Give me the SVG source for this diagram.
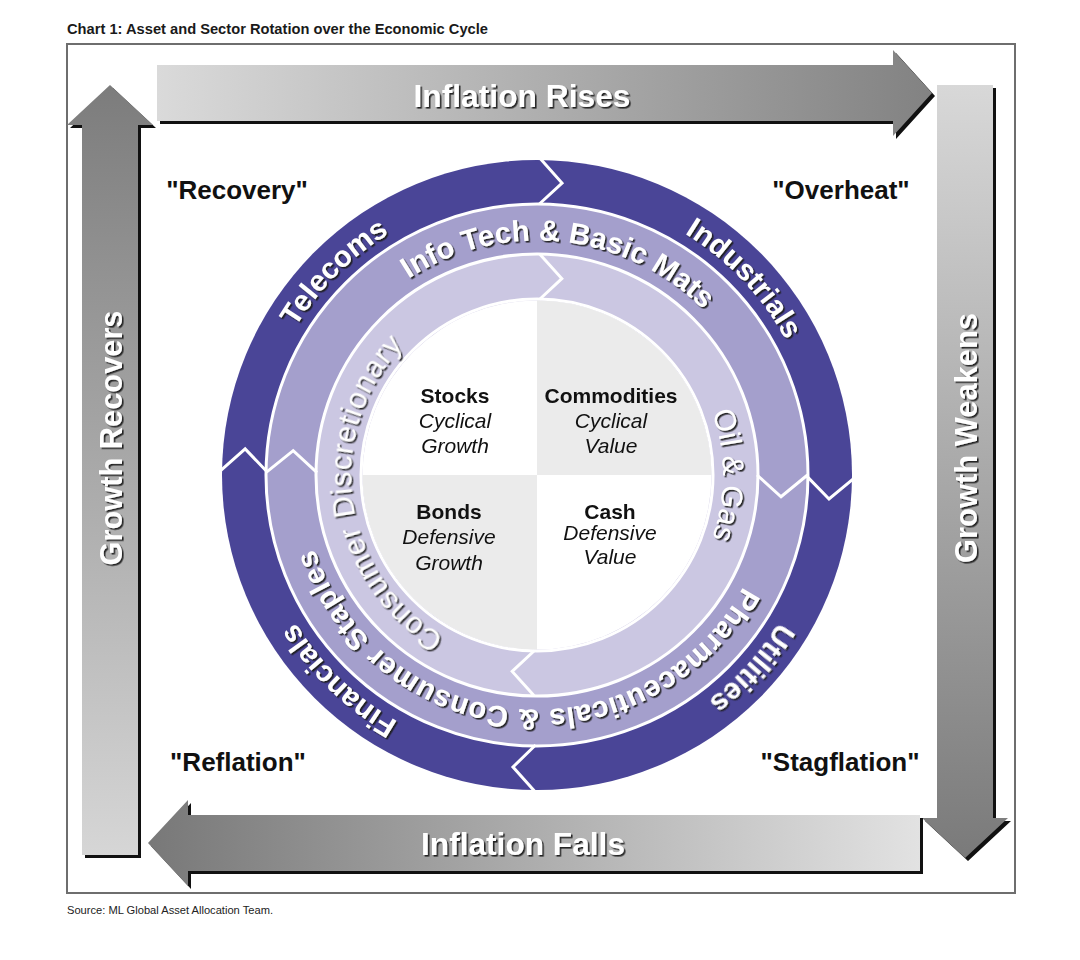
<svg xmlns="http://www.w3.org/2000/svg" xmlns:xlink="http://www.w3.org/1999/xlink" width="1080" height="960" viewBox="0 0 1080 960">
  <style>
    .sans { font-family: "Liberation Sans", Arial, Helvetica, sans-serif; }
    .title { font-size: 15.5px; font-weight: bold; fill: #1a1a1a; }
    .source { font-size: 11.5px; fill: #222; }
    .phase { font-size: 26px; font-weight: bold; fill: #111; text-anchor: middle; }
    .arrow-txt { font-size: 32px; font-weight: bold; fill: #fff; text-anchor: middle; }
    .ring-bold { font-size: 29.5px; font-weight: bold; fill: #fff; }
    .ring-reg { font-size: 30px; fill: #fff; }
    .asset { font-size: 21px; font-weight: bold; fill: #111; text-anchor: middle; }
    .style { font-size: 21px; font-style: italic; fill: #111; text-anchor: middle; }
    .chev { fill: none; stroke: #fff; stroke-width: 3; stroke-linejoin: miter; }
    .sep { fill: none; stroke: #fff; stroke-width: 3; }
    .shadow { fill: #111; }
  </style>
  <defs>
    <linearGradient id="gRight" x1="0" y1="0" x2="1" y2="0">
      <stop offset="0" stop-color="#dadada"/>
      <stop offset="1" stop-color="#828282"/>
    </linearGradient>
    <linearGradient id="gLeft" x1="0" y1="0" x2="1" y2="0">
      <stop offset="0" stop-color="#787878"/>
      <stop offset="1" stop-color="#e2e2e2"/>
    </linearGradient>
    <linearGradient id="gUp" x1="0" y1="0" x2="0" y2="1">
      <stop offset="0" stop-color="#7c7c7c"/>
      <stop offset="1" stop-color="#d6d6d6"/>
    </linearGradient>
    <linearGradient id="gDown" x1="0" y1="0" x2="0" y2="1">
      <stop offset="0" stop-color="#d8d8d8"/>
      <stop offset="1" stop-color="#7a7a7a"/>
    </linearGradient>
    <filter id="txtShadow" x="-10%" y="-10%" width="120%" height="120%">
      <feDropShadow dx="1.6" dy="1.6" stdDeviation="0.7" flood-color="#1e1e1e" flood-opacity="0.95"/>
    </filter>
    <!-- clockwise arcs centred on 12 o'clock, one per text baseline radius -->
    <path id="arcO" d="M258.30,524.14 A283,283 0 1 1 815.70,524.14"/>
    <path id="arcM" d="M306.06,515.72 A234.5,234.5 0 1 1 767.94,515.72"/>
    <path id="arcI" d="M353.82,507.30 A186,186 0 1 1 720.18,507.30"/>
  </defs>

  <rect width="1080" height="960" fill="#fff"/>

  <text class="sans title" x="67" y="34" textLength="421" lengthAdjust="spacingAndGlyphs">Chart 1: Asset and Sector Rotation over the Economic Cycle</text>
  <rect x="67" y="44" width="948" height="849" fill="none" stroke="#6e6e6e" stroke-width="2"/>
  <text class="sans source" x="67" y="914" textLength="206" lengthAdjust="spacingAndGlyphs">Source: ML Global Asset Allocation Team.</text>

  <!-- big directional arrows round the frame -->
  <g id="connectors">
    <g id="arrow-inflation-rises">
      <polygon class="shadow" transform="translate(3,3)" points="157,65 893,65 893,50 932,93 893,136 893,121 157,121"/>
      <polygon fill="url(#gRight)" points="157,65 893,65 893,50 932,93 893,136 893,121 157,121"/>
      <g filter="url(#txtShadow)">
        <text class="sans arrow-txt" x="522" y="107" textLength="217" lengthAdjust="spacingAndGlyphs">Inflation Rises</text>
      </g>
    </g>
    <g id="arrow-growth-weakens">
      <polygon class="shadow" transform="translate(3,3)" points="937,85 993,85 993,818 1008,818 965,858 922,818 937,818"/>
      <polygon fill="url(#gDown)" points="937,85 993,85 993,818 1008,818 965,858 922,818 937,818"/>
      <g filter="url(#txtShadow)">
        <text class="sans arrow-txt" transform="translate(977,438) rotate(-90)" x="0" y="0" textLength="250" lengthAdjust="spacingAndGlyphs">Growth Weakens</text>
      </g>
    </g>
    <g id="arrow-inflation-falls">
      <polygon class="shadow" transform="translate(3,3)" points="920,815 920,871 188,871 188,886 148,843 188,800 188,815"/>
      <polygon fill="url(#gLeft)" points="920,815 920,871 188,871 188,886 148,843 188,800 188,815"/>
      <g filter="url(#txtShadow)">
        <text class="sans arrow-txt" x="523" y="855" textLength="204" lengthAdjust="spacingAndGlyphs">Inflation Falls</text>
      </g>
    </g>
    <g id="arrow-growth-recovers">
      <polygon class="shadow" transform="translate(3,3)" points="82,855 82,125 67,125 110,85 153,125 138,125 138,855"/>
      <polygon fill="url(#gUp)" points="82,855 82,125 67,125 110,85 153,125 138,125 138,855"/>
      <g filter="url(#txtShadow)">
        <text class="sans arrow-txt" transform="translate(122,438) rotate(-90)" x="0" y="0" textLength="255" lengthAdjust="spacingAndGlyphs">Growth Recovers</text>
      </g>
    </g>
  </g>

  <!-- phase labels -->
  <g id="phase-recovery"><text class="sans phase" x="237" y="199">"Recovery"</text></g>
  <g id="phase-overheat"><text class="sans phase" x="841" y="199">"Overheat"</text></g>
  <g id="phase-reflation"><text class="sans phase" x="238" y="771">"Reflation"</text></g>
  <g id="phase-stagflation"><text class="sans phase" x="840" y="771">"Stagflation"</text></g>

  <!-- sector rings -->
  <g id="ring-sectors">
    <circle cx="537" cy="475" r="315" fill="#4a4597"/>
    <circle cx="537" cy="475" r="271" fill="#a49fcc"/>
    <circle cx="537" cy="475" r="221" fill="#cbc7e2"/>
    <circle class="sep" cx="537" cy="475" r="271"/>
    <circle class="sep" cx="537" cy="475" r="221"/>
    <circle class="sep" cx="537" cy="475" r="176"/>

    <!-- outer ring chevrons -->
    <polyline class="chev" points="539.75,158 562.03,183.07 539.37,204.01"/>
    <polyline class="chev" points="856,476.66 829.02,499.01 807,476.41"/>
    <polyline class="chev" points="535.34,792 512.99,767.02 535.59,745"/>
    <polyline class="chev" points="220.02,471.13 245.16,448.95 267.02,471.70"/>
    <!-- middle ring chevrons -->
    <polyline class="chev" points="807.5,475 781.03,496.78 757,475"/>
    <polyline class="chev" points="266.51,472.17 293.21,450.67 317.01,472.70"/>
    <!-- inner ring chevrons -->
    <polyline class="chev" points="540.08,254.52 561.82,278.56 539.45,299.51"/>
    <polyline class="chev" points="533.92,695.48 512.18,671.44 534.55,650.49"/>
  </g>

  <g filter="url(#txtShadow)">
    <g id="sector-telecoms" transform="rotate(-45 537 475)">
      <text class="sans ring-bold" text-anchor="middle"><textPath href="#arcO" xlink:href="#arcO" startOffset="50%">Telecoms</textPath></text>
    </g>
    <g id="sector-industrials" transform="rotate(46.5 537 475)">
      <text class="sans ring-bold" text-anchor="middle"><textPath href="#arcO" xlink:href="#arcO" startOffset="50%">Industrials</textPath></text>
    </g>
    <g id="sector-utilities" transform="rotate(132 537 475)">
      <text class="sans ring-bold" text-anchor="middle"><textPath href="#arcO" xlink:href="#arcO" startOffset="50%">Utilities</textPath></text>
    </g>
    <g id="sector-financials" transform="rotate(224 537 475)">
      <text class="sans ring-bold" text-anchor="middle"><textPath href="#arcO" xlink:href="#arcO" startOffset="50%">Financials</textPath></text>
    </g>
    <g id="sector-infotech" transform="rotate(6 537 475)">
      <text class="sans ring-bold" text-anchor="middle"><textPath href="#arcM" xlink:href="#arcM" startOffset="50%">Info Tech &amp; Basic Mats</textPath></text>
    </g>
    <g id="sector-pharma" transform="rotate(185 537 475)">
      <text class="sans ring-bold" text-anchor="middle"><textPath href="#arcM" xlink:href="#arcM" startOffset="50%" textLength="545" lengthAdjust="spacing">Pharmaceuticals &amp; Consumer Staples</textPath></text>
    </g>
    <g id="sector-discretionary" transform="rotate(262 537 475)">
      <text class="sans ring-reg" text-anchor="middle"><textPath href="#arcI" xlink:href="#arcI" startOffset="50%" textLength="338" lengthAdjust="spacing">Consumer Discretionary</textPath></text>
    </g>
    <g id="sector-oilgas" transform="rotate(90 537 475)">
      <text class="sans ring-reg" text-anchor="middle"><textPath href="#arcI" xlink:href="#arcI" startOffset="50%">Oil &amp; Gas</textPath></text>
    </g>
  </g>

  <!-- asset-class quadrants -->
  <g id="quadrants">
    <circle cx="537" cy="475" r="174.5" fill="#fff"/>
    <path d="M537,475 L537,300.5 A174.5,174.5 0 0 1 711.5,475 Z" fill="#ebebeb"/>
    <path d="M537,475 L537,649.5 A174.5,174.5 0 0 1 362.5,475 Z" fill="#ebebeb"/>
  </g>
  <g id="asset-stocks">
    <text class="sans asset" x="455" y="403">Stocks</text>
    <text class="sans style" x="455" y="428">Cyclical</text>
    <text class="sans style" x="455" y="453">Growth</text>
  </g>
  <g id="asset-commodities">
    <text class="sans asset" x="611" y="403">Commodities</text>
    <text class="sans style" x="611" y="428">Cyclical</text>
    <text class="sans style" x="611" y="453">Value</text>
  </g>
  <g id="asset-bonds">
    <text class="sans asset" x="449" y="519">Bonds</text>
    <text class="sans style" x="449" y="544">Defensive</text>
    <text class="sans style" x="449" y="570">Growth</text>
  </g>
  <g id="asset-cash">
    <text class="sans asset" x="610" y="519">Cash</text>
    <text class="sans style" x="610" y="540">Defensive</text>
    <text class="sans style" x="610" y="564">Value</text>
  </g>
</svg>
